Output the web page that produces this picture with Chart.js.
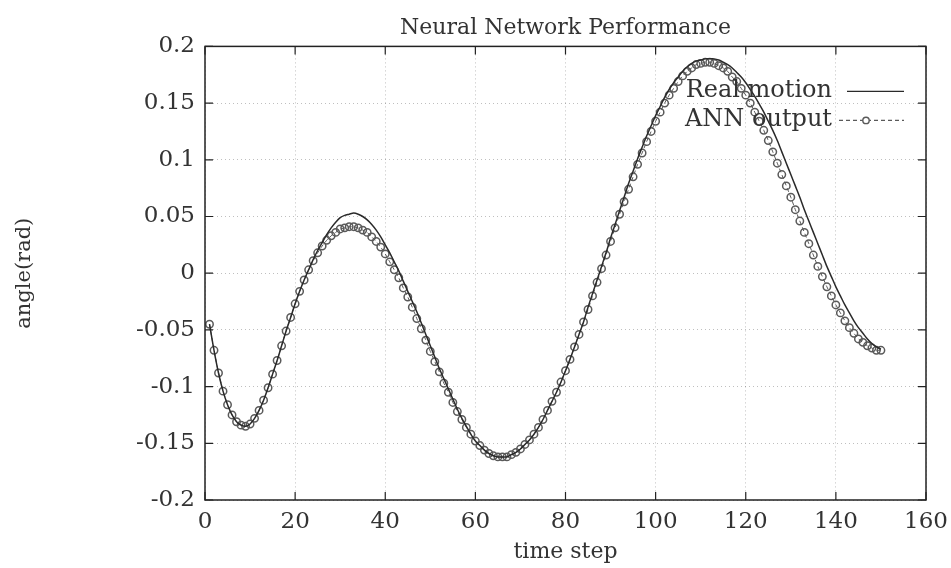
<!DOCTYPE html>
<html><head><meta charset="utf-8">
<script src="https://cdn.jsdelivr.net/npm/chart.js@4.4.1/dist/chart.umd.min.js"></script>
<style>html,body{margin:0;padding:0;background:#fff}#wrap{width:951px;height:568px}</style>
</head><body><div id="wrap"><canvas id="c" width="951" height="568"></canvas></div>
<script>
const TITLE = "Neural Network Performance";
const X_LABEL = "time step";
const Y_LABEL = "angle(rad)";
const SERIES_NAMES = ["Real motion", "ANN output"];
const TIME_STEPS = [1,2,3,4,5,6,7,8,9,10,11,12,13,14,15,16,17,18,19,20,21,22,23,24,25,26,27,28,29,30,
31,32,33,34,35,36,37,38,39,40,41,42,43,44,45,46,47,48,49,50,51,52,53,54,55,56,57,58,59,60,
61,62,63,64,65,66,67,68,69,70,71,72,73,74,75,76,77,78,79,80,81,82,83,84,85,86,87,88,89,90,
91,92,93,94,95,96,97,98,99,100,101,102,103,104,105,106,107,108,109,110,111,112,113,114,115,116,117,118,119,120,
121,122,123,124,125,126,127,128,129,130,131,132,133,134,135,136,137,138,139,140,141,142,143,144,145,146,147,148,149,150];
const REAL_MOTION = [
-0.045,-0.068,-0.088,-0.104,-0.116,-0.125,-0.131,-0.134,-0.135,-0.133,
-0.128,-0.121,-0.112,-0.101,-0.089,-0.077,-0.064,-0.051,-0.039,-0.027,
-0.016,-0.006,0.003,0.012,0.020,0.027,0.034,0.040,0.045,0.049,
0.051,0.052,0.053,0.052,0.050,0.047,0.043,0.038,0.032,0.025,
0.018,0.010,0.002,-0.007,-0.016,-0.025,-0.034,-0.044,-0.054,-0.064,
-0.074,-0.084,-0.093,-0.102,-0.111,-0.120,-0.128,-0.135,-0.142,-0.148,
-0.152,-0.156,-0.159,-0.161,-0.162,-0.162,-0.162,-0.160,-0.158,-0.155,
-0.151,-0.147,-0.142,-0.136,-0.129,-0.121,-0.113,-0.105,-0.096,-0.086,
-0.076,-0.065,-0.054,-0.043,-0.030,-0.018,-0.006,0.006,0.018,0.031,
0.043,0.055,0.067,0.079,0.090,0.101,0.111,0.121,0.130,0.139,
0.147,0.155,0.162,0.168,0.173,0.178,0.182,0.185,0.187,0.188,
0.189,0.189,0.189,0.188,0.186,0.184,0.181,0.177,0.173,0.168,
0.162,0.156,0.149,0.142,0.134,0.126,0.117,0.107,0.097,0.087,
0.077,0.067,0.056,0.046,0.036,0.026,0.016,0.006,-0.003,-0.012,
-0.020,-0.028,-0.035,-0.042,-0.048,-0.053,-0.058,-0.062,-0.065,-0.067];
const ANN_OUTPUT = [
-0.045,-0.068,-0.088,-0.104,-0.116,-0.125,-0.131,-0.134,-0.135,-0.133,
-0.128,-0.121,-0.112,-0.101,-0.089,-0.077,-0.064,-0.051,-0.039,-0.027,
-0.016,-0.006,0.003,0.011,0.018,0.024,0.029,0.033,0.036,0.039,
0.040,0.041,0.041,0.040,0.038,0.036,0.032,0.028,0.023,0.017,
0.010,0.003,-0.004,-0.013,-0.021,-0.030,-0.040,-0.049,-0.059,-0.069,
-0.078,-0.087,-0.097,-0.105,-0.114,-0.122,-0.129,-0.136,-0.142,-0.148,
-0.152,-0.156,-0.159,-0.161,-0.162,-0.162,-0.162,-0.160,-0.158,-0.155,
-0.151,-0.147,-0.142,-0.136,-0.129,-0.121,-0.113,-0.105,-0.096,-0.086,
-0.076,-0.065,-0.054,-0.043,-0.032,-0.020,-0.008,0.004,0.016,0.028,
0.040,0.052,0.063,0.074,0.085,0.096,0.106,0.116,0.125,0.134,
0.142,0.150,0.157,0.163,0.169,0.174,0.178,0.181,0.184,0.185,
0.186,0.186,0.185,0.183,0.181,0.178,0.173,0.169,0.163,0.157,
0.150,0.142,0.134,0.126,0.117,0.107,0.097,0.087,0.077,0.067,
0.056,0.046,0.036,0.026,0.016,0.006,-0.003,-0.012,-0.020,-0.028,
-0.035,-0.042,-0.048,-0.053,-0.058,-0.061,-0.064,-0.066,-0.068,-0.068];
const X_TICKS = [0,20,40,60,80,100,120,140,160];
const Y_TICKS = [-0.2,-0.15,-0.1,-0.05,0,0.05,0.1,0.15,0.2];
const Y_TICK_LABELS = ["-0.2","-0.15","-0.1","-0.05","0","0.05","0.1","0.15","0.2"];

const FONT = "'DejaVu Serif', 'Liberation Serif', serif";
const TEXT = '#333';
const LINE = '#2a2a2a';
const MARK = '#5a5a5a';

const toXY = (ys) => TIME_STEPS.map((t, i) => ({x: t, y: ys[i]}));

const bgPlugin = {
  id: 'bg',
  beforeDraw(chart) {
    const c = chart.ctx; c.save(); c.fillStyle = '#fff';
    c.fillRect(0, 0, chart.width, chart.height); c.restore();
  }
};

const framePlugin = {
  id: 'frame',
  afterDatasetsDraw(chart) {
    const {ctx, chartArea: a, scales: {x, y}} = chart;
    ctx.save();
    ctx.strokeStyle = '#222'; ctx.lineWidth = 1.5;
    ctx.strokeRect(a.left, a.top, a.right - a.left, a.bottom - a.top);
    ctx.lineWidth = 1.2;
    const L = 8;
    ctx.beginPath();
    X_TICKS.forEach(v => {
      const px = x.getPixelForValue(v);
      ctx.moveTo(px, a.bottom); ctx.lineTo(px, a.bottom - L);
      ctx.moveTo(px, a.top); ctx.lineTo(px, a.top + L);
    });
    Y_TICKS.forEach(v => {
      const py = y.getPixelForValue(v);
      ctx.moveTo(a.left, py); ctx.lineTo(a.left + L, py);
      ctx.moveTo(a.right, py); ctx.lineTo(a.right - L, py);
    });
    ctx.stroke();
    ctx.restore();
  }
};

const legendPlugin = {
  id: 'innerLegend',
  afterDraw(chart) {
    const {ctx, chartArea: a} = chart;
    const textRight = a.right - 94;
    const rows = [a.top + 44, a.top + 73];
    ctx.save();
    ctx.font = "24px " + FONT;
    ctx.fillStyle = TEXT;
    ctx.textAlign = 'right';
    ctx.textBaseline = 'middle';
    ctx.fillText(SERIES_NAMES[0], textRight, rows[0]);
    ctx.fillText(SERIES_NAMES[1], textRight, rows[1]);
    ctx.strokeStyle = LINE; ctx.lineWidth = 1.4;
    ctx.beginPath(); ctx.moveTo(a.right - 79, rows[0] + 1); ctx.lineTo(a.right - 22, rows[0] + 1); ctx.stroke();
    ctx.strokeStyle = MARK; ctx.lineWidth = 1.2; ctx.setLineDash([4, 3]);
    ctx.beginPath(); ctx.moveTo(a.right - 87, rows[1] + 1); ctx.lineTo(a.right - 22, rows[1] + 1); ctx.stroke();
    ctx.setLineDash([]);
    ctx.lineWidth = 1.4;
    ctx.beginPath(); ctx.arc(a.right - 60, rows[1] + 1, 3.2, 0, Math.PI * 2); ctx.fillStyle = '#fff'; ctx.fill(); ctx.stroke();
    ctx.restore();
  }
};

new Chart(document.getElementById('c'), {
  type: 'line',
  data: {
    datasets: [
      {
        label: SERIES_NAMES[0],
        data: toXY(REAL_MOTION),
        borderColor: LINE,
        borderWidth: 1.5,
        pointRadius: 0,
        tension: 0.3,
        fill: false,
        order: 0
      },
      {
        label: SERIES_NAMES[1],
        data: toXY(ANN_OUTPUT),
        borderColor: MARK,
        borderWidth: 1,
        borderDash: [4, 3],
        pointRadius: 3.7,
        pointBorderWidth: 1.5,
        pointBorderColor: MARK,
        pointBackgroundColor: 'rgba(255,255,255,0)',
        pointStyle: 'circle',
        tension: 0,
        fill: false,
        order: 1
      }
    ]
  },
  options: {
    responsive: false,
    animation: false,
    devicePixelRatio: 1,
    layout: {padding: {left: 0, right: 25, top: 0, bottom: 0}},
    plugins: {
      legend: {display: false},
      tooltip: {enabled: false},
      title: {
        display: true,
        text: TITLE,
        fullSize: false,
        color: TEXT,
        font: {family: FONT, size: 22, weight: 'normal'},
        padding: {top: 15, bottom: 5}
      }
    },
    scales: {
      x: {
        type: 'linear',
        min: 0, max: 160,
        afterBuildTicks: s => { s.ticks = X_TICKS.map(v => ({value: v})); },
        afterFit: s => { s.height = 68; s.paddingRight = 0; s.paddingLeft = 0; },
        ticks: {color: TEXT, font: {family: FONT, size: 23}, padding: 8, maxRotation: 0, autoSkip: false,
                callback: v => String(v)},
        grid: {color: 'rgba(0,0,0,0.25)', lineWidth: 1, drawTicks: false},
        border: {display: false, dash: [1, 3]},
        title: {display: true, text: X_LABEL, color: TEXT, font: {family: FONT, size: 22}, padding: {top: 0, bottom: 3}}
      },
      y: {
        type: 'linear',
        min: -0.2, max: 0.2,
        afterBuildTicks: s => { s.ticks = Y_TICKS.map(v => ({value: v})); },
        afterFit: s => { s.width = 205; s.paddingTop = 0; s.paddingBottom = 0; },
        ticks: {color: TEXT, font: {family: FONT, size: 23}, padding: 10, autoSkip: false,
                callback: v => { const i = Y_TICKS.findIndex(t => Math.abs(t - v) < 1e-9); return i >= 0 ? Y_TICK_LABELS[i] : ''; }},
        grid: {color: 'rgba(0,0,0,0.25)', lineWidth: 1, drawTicks: false},
        border: {display: false, dash: [1, 3]},
        title: {display: true, text: Y_LABEL, color: TEXT, font: {family: FONT, size: 21}, padding: {top: 12, bottom: 0}}
      }
    }
  },
  plugins: [bgPlugin, framePlugin, legendPlugin]
});
</script>
</body></html>
